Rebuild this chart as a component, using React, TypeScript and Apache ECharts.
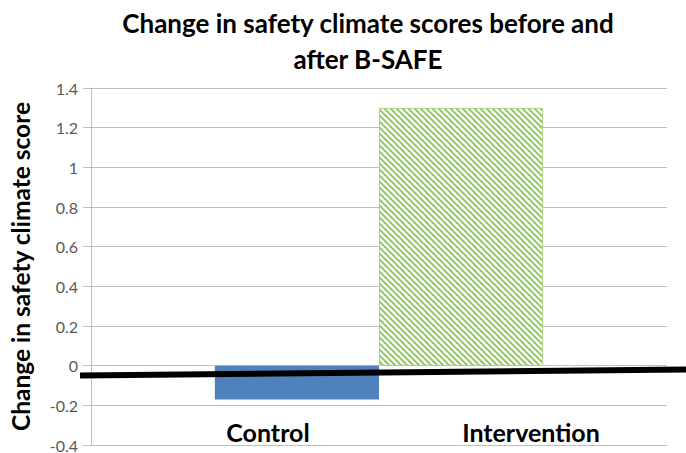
import React, { useEffect, useRef } from "react";
import * as echarts from "echarts";

const titleText = "Change in safety climate scores before and\nafter B-SAFE";
const yAxisName = "Change in safety climate score";
const groups = ["Control", "Intervention"];
const values = [-0.17, 1.3];
const yMin = -0.4;
const yMax = 1.4;
const yInterval = 0.2;

const FONT = "Lato, 'Open Sans', sans-serif";

function makeHatch(): HTMLCanvasElement {
  const s = 6;
  const c = document.createElement("canvas");
  c.width = s;
  c.height = s;
  const ctx = c.getContext("2d")!;
  ctx.fillStyle = "#fbfef7";
  ctx.fillRect(0, 0, s, s);
  ctx.strokeStyle = "#8cc65e";
  ctx.lineWidth = 1.9;
  for (const off of [-s, 0, s]) {
    ctx.beginPath();
    ctx.moveTo(off - 1, -1);
    ctx.lineTo(off + s + 1, s + 1);
    ctx.stroke();
  }
  return c;
}

export default function App() {
  const ref = useRef<HTMLDivElement>(null);
  useEffect(() => {
    if (!ref.current) return;
    const chart = echarts.init(ref.current, undefined, { renderer: "svg" });
    const hatch = makeHatch();
    chart.setOption({
      animation: false,
      backgroundColor: "#ffffff",
      title: {
        text: titleText,
        left: 363,
        top: 0,
        textAlign: "center",
        textStyle: {
          fontFamily: FONT,
          fontWeight: "bold",
          fontSize: 26,
          lineHeight: 36,
          color: "#000000",
        },
      },
      grid: { left: 90, right: 19, top: 88, bottom: 4, containLabel: false },
      xAxis: {
        type: "category",
        data: [""],
        axisLine: { show: true, onZero: false, lineStyle: { color: "#bfbfbf" } },
        axisTick: { show: false },
        axisLabel: { show: false },
      },
      yAxis: {
        type: "value",
        min: yMin,
        max: yMax,
        interval: yInterval,
        name: yAxisName,
        nameLocation: "middle",
        nameRotate: 90,
        nameGap: 58,
        nameTextStyle: {
          fontFamily: FONT,
          fontWeight: "bold",
          fontSize: 24.5,
          color: "#000000",
        },
        axisLine: { show: true, lineStyle: { color: "#bfbfbf" } },
        axisTick: { show: true, length: 8, lineStyle: { color: "#bfbfbf" } },
        axisLabel: {
          margin: 13,
          fontFamily: FONT,
          fontSize: 16,
          color: "#595959",
        },
        splitLine: { show: true, lineStyle: { color: "#bfbfbf", width: 1 } },
      },
      series: [
        {
          name: groups[0],
          type: "bar",
          data: [values[0]],
          barGap: "0%",
          barCategoryGap: "43%",
          itemStyle: { color: "#4f81bd" },
        },
        {
          name: groups[1],
          type: "bar",
          data: [values[1]],
          barGap: "0%",
          barCategoryGap: "43%",
          itemStyle: {
            color: { image: hatch, repeat: "repeat", imageWidth: 6, imageHeight: 6 },
            borderColor: "#a6d67f",
            borderWidth: 1,
          },
        },
      ],
      graphic: [
        {
          type: "line",
          shape: { x1: 80, y1: 375.5, x2: 686, y2: 369.5 },
          style: { stroke: "#000000", lineWidth: 6 },
          z: 100,
        },
        {
          type: "text",
          x: 268,
          y: 432,
          style: {
            text: groups[0],
            fontFamily: FONT,
            fontWeight: "bold",
            fontSize: 25,
            fill: "#000000",
            textAlign: "center",
            textVerticalAlign: "middle",
          },
        },
        {
          type: "text",
          x: 531,
          y: 432,
          style: {
            text: groups[1],
            fontFamily: FONT,
            fontWeight: "bold",
            fontSize: 25,
            fill: "#000000",
            textAlign: "center",
            textVerticalAlign: "middle",
          },
        },
      ],
    });
    return () => chart.dispose();
  }, []);
  return (
    <div
      ref={ref}
      style={{ position: "fixed", left: 0, top: 0, width: 686, height: 453 }}
    />
  );
}
